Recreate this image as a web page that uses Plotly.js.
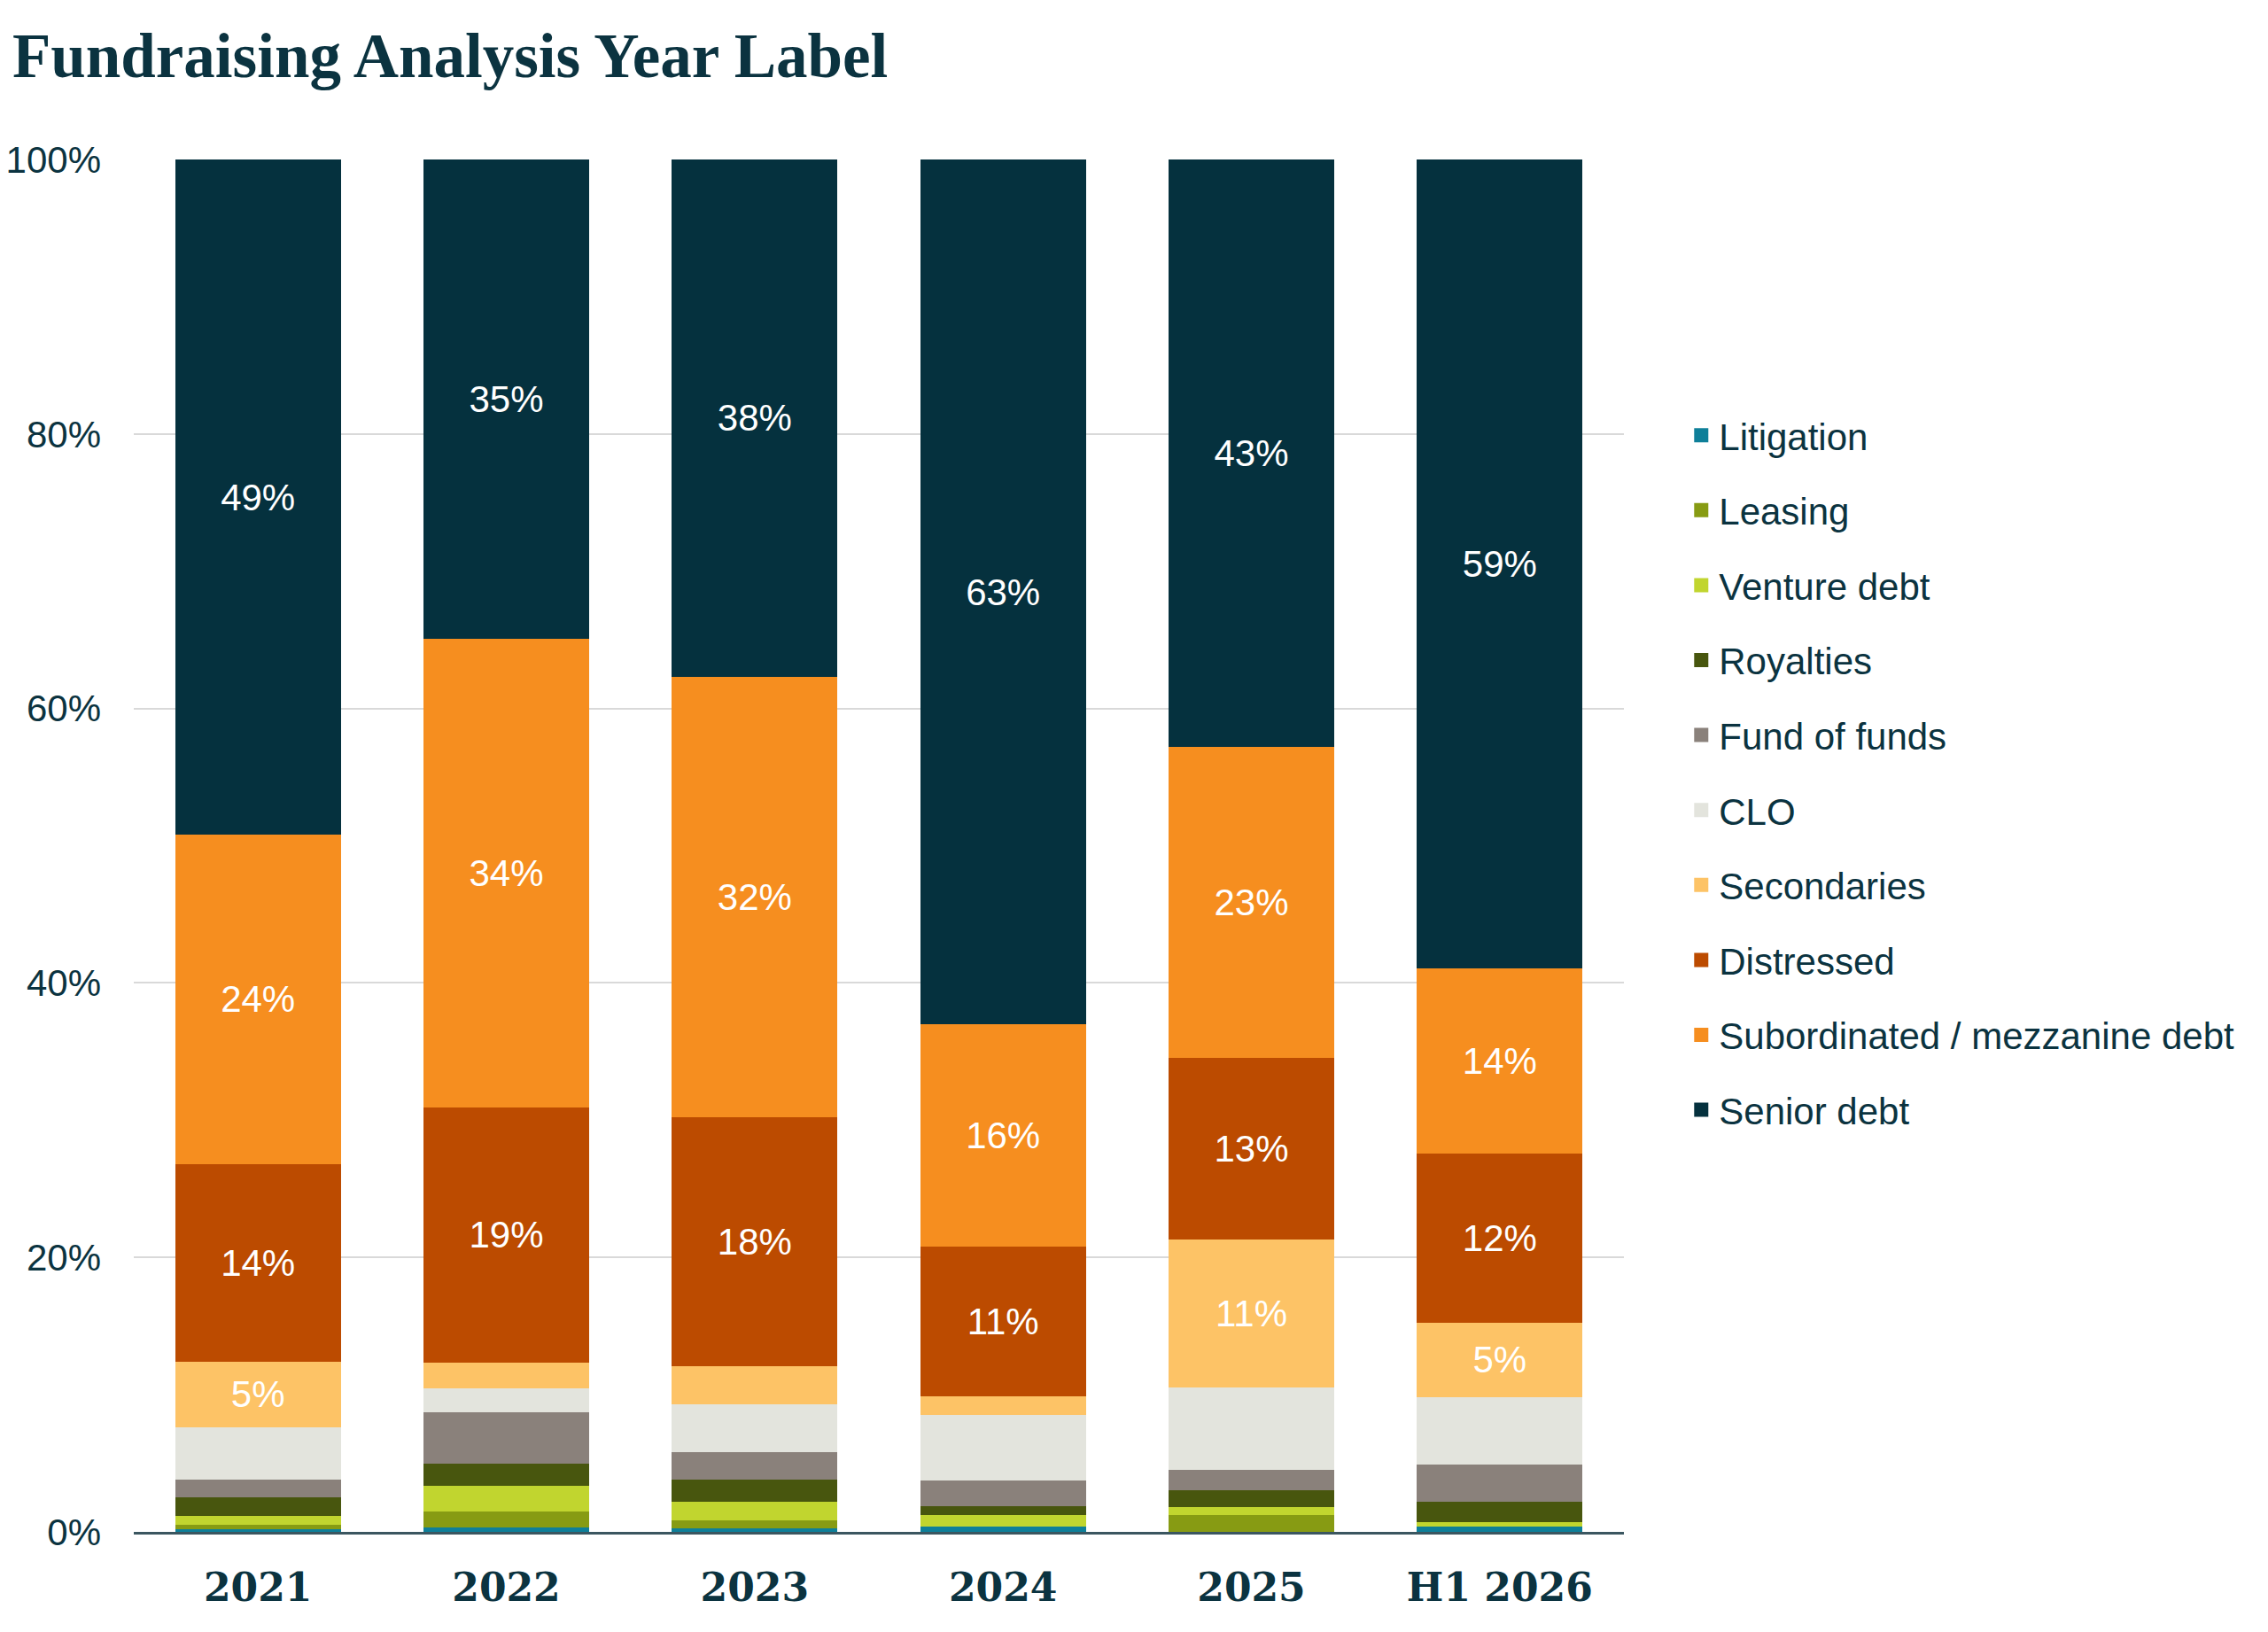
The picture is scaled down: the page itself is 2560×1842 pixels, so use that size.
<!DOCTYPE html>
<html>
<head>
<meta charset="utf-8">
<script src="https://cdn.plot.ly/plotly-3.0.1.min.js"></script>
<style>
  html, body { margin: 0; padding: 0; background: #ffffff; }
  #chart { width: 2560px; height: 1842px; }
</style>
</head>
<body>
<div id="chart"></div>
<script>
// ---- data (percent of fundraising per year) ----
var categories = ["2021", "2022", "2023", "2024", "2025", "H1 2026"];

var litigation    = [0.22, 0.35, 0.24, 0.39, 0.00, 0.39];
var leasing       = [0.28, 1.14, 0.58, 0.00, 1.25, 0.00];
var ventureDebt   = [0.69, 1.87, 1.36, 0.84, 0.58, 0.30];
var royalties     = [1.36, 1.64, 1.63, 0.65, 1.23, 1.51];
var fundOfFunds   = [1.29, 3.70, 2.00, 1.85, 1.49, 2.69];
var clo           = [3.81, 1.76, 3.49, 4.80, 6.00, 4.95];
var secondaries   = [4.72, 1.90, 2.76, 1.32, 10.78, 5.37];
var distressed    = [14.45, 18.58, 18.14, 10.95, 13.20, 12.35];
var subordinated  = [23.97, 34.11, 32.10, 16.16, 22.70, 13.52];
var seniorDebt    = [49.21, 34.95, 37.70, 63.04, 42.77, 58.92];

var seriesNames = ["Litigation", "Leasing", "Venture debt", "Royalties", "Fund of funds",
                   "CLO", "Secondaries", "Distressed", "Subordinated / mezzanine debt", "Senior debt"];
var seriesValues = [litigation, leasing, ventureDebt, royalties, fundOfFunds,
                    clo, secondaries, distressed, subordinated, seniorDebt];
var seriesColors = ["#0e7f99", "#879b13", "#c1d52f", "#48560e", "#8a817b",
                    "#e3e4dd", "#fdc366", "#bc4b00", "#f68e1f", "#05313e"];
var labelledSeries = ["Secondaries", "Distressed", "Subordinated / mezzanine debt", "Senior debt"];
var yTickVals = [0, 20, 40, 60, 80, 100];
var yTickText = ["0%", "20%", "40%", "60%", "80%", "100%"];

var textColor = "#0b3340";

var barTraces = seriesNames.map(function (name, i) {
  var vals = seriesValues[i];
  var labelled = labelledSeries.indexOf(name) >= 0;
  var txt = vals.map(function (v) {
    return (labelled && v >= 4.5) ? Math.round(v) + "%" : "";
  });
  return {
    type: "bar",
    name: name,
    x: categories,
    y: vals,
    showlegend: false,
    marker: { color: seriesColors[i], line: { width: 0 } },
    text: txt,
    textposition: labelled ? "inside" : "none",
    insidetextanchor: "middle",
    textangle: 0,
    constraintext: "none",
    textfont: { family: "Liberation Sans, Arial, sans-serif", size: 42, color: "#ffffff" },
    hoverinfo: "x+y+name"
  };
});

// legend-only entries (square swatches), no data points
var legendTraces = seriesNames.map(function (name, i) {
  return {
    type: "scatter",
    mode: "markers",
    name: name,
    x: [null],
    y: [null],
    legendgroup: "g" + i,
    marker: { symbol: "square", size: 16, color: seriesColors[i] },
    hoverinfo: "skip"
  };
});

var layout = {
  width: 2560,
  height: 1842,
  paper_bgcolor: "#ffffff",
  plot_bgcolor: "#ffffff",
  barmode: "stack",
  bargap: 0.333,
  margin: { l: 151, r: 727, t: 180, b: 113, pad: 0 },
  title: {
    text: "<b>Fundraising Analysis Year Label</b>",
    font: { family: "Liberation Serif, Times New Roman, serif", size: 71, color: textColor },
    xref: "container", yref: "container",
    x: 14 / 2560, xanchor: "left",
    y: 1 - 37 / 1842, yanchor: "top"
  },
  xaxis: {
    type: "category",
    categoryorder: "array",
    categoryarray: categories,
    showgrid: false,
    showline: true,
    linecolor: "#3b5660",
    linewidth: 3,
    ticks: "",
    ticklabelstandoff: 22,
    tickfont: { family: "DejaVu Serif, serif", size: 44, color: textColor, weight: "bold" }
  },
  yaxis: {
    range: [0, 100],
    tickvals: yTickVals,
    ticktext: yTickText,
    showgrid: true,
    gridcolor: "#d9d9d9",
    gridwidth: 2,
    zeroline: false,
    showline: false,
    ticks: "",
    ticklabelstandoff: 36,
    tickfont: { family: "Liberation Sans, Arial, sans-serif", size: 42, color: textColor }
  },
  legend: {
    x: 1.04, xanchor: "left",
    y: 0.553, yanchor: "middle",
    traceorder: "grouped",
    tracegroupgap: 27,
    font: { family: "Liberation Sans, Arial, sans-serif", size: 42, color: textColor },
    bgcolor: "rgba(0,0,0,0)"
  },
  showlegend: true
};

Plotly.newPlot("chart", barTraces.concat(legendTraces), layout, { displayModeBar: false, staticPlot: true });
</script>
</body>
</html>
